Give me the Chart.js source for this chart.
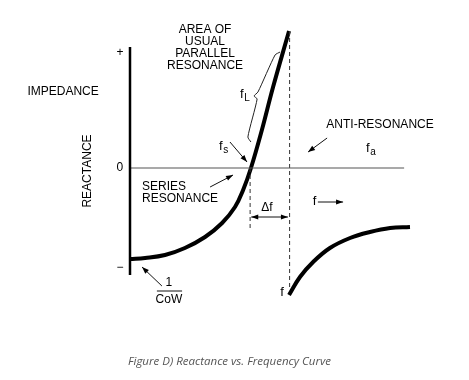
<!DOCTYPE html>
<html>
<head>
<meta charset="utf-8">
<script src="https://cdn.jsdelivr.net/npm/chart.js@4/dist/chart.umd.min.js"></script>
<style>
  html, body { margin: 0; padding: 0; background: #fff; }
  #wrap { width: 469px; height: 380px; position: relative; }
</style>
</head>
<body>
<div id="wrap"><canvas id="c" width="469" height="380"></canvas></div>
<script>
// ---- Data (schematic units: frequency along x, reactance along y) ----
const seriesFreq   = [0, 0.54, 1.25, 1.96, 2.68, 3.29, 3.75, 4.04, 4.32, 4.71, 5.11, 5.68];
const seriesReact  = [-9.1, -9.0, -8.7, -8.0, -6.9, -5.5, -3.9, -2.2, 0, 3.8, 8.1, 13.7];
const parallelFreq  = [5.68, 6.07, 6.54, 7.14, 7.86, 8.57, 9.29, 10];
const parallelReact = [-12.7, -10.9, -9.4, -8.0, -7.0, -6.4, -6.0, -5.9];
const fsFreq = 4.29;          // series resonance frequency
const faFreq = 5.70;          // anti-resonance frequency
const braceFreq  = [5.36, 5.18, 4.57, 4.43, 4.54, 4.21, 4.32];
const braceReact = [11.6, 11.3, 7.6, 7.2, 6.9, 3.1, 2.6];
const tickValues = [11.5, 0, -10.0];
const tickLabels = ['+', '0', '\u2212'];
const axisTop = 12.1, axisBottom = -10.7, zeroLineEnd = 9.79;

const pts = (xs, ys) => xs.map((x, i) => ({ x: x, y: ys[i] }));

const FONT = '"Liberation Sans", Arial, sans-serif';

const annot = {
  id: 'annot',
  afterDatasetsDraw(chart) {
    const ctx = chart.ctx;
    const X = v => chart.scales.x.getPixelForValue(v);
    const Y = v => chart.scales.y.getPixelForValue(v);
    ctx.save();
    ctx.fillStyle = '#000';
    ctx.strokeStyle = '#111';

    function text(s, x, y, size, align, base) {
      ctx.font = (size || 12) + 'px ' + FONT;
      ctx.textAlign = align || 'center';
      ctx.textBaseline = base || 'middle';
      ctx.fillText(s, X(x), Y(y));
    }
    function sub(main, s, x, y) {
      ctx.textBaseline = 'alphabetic';
      ctx.textAlign = 'left';
      ctx.font = '13px ' + FONT;
      ctx.fillText(main, X(x), Y(y));
      const w = ctx.measureText(main).width;
      ctx.font = '10px ' + FONT;
      ctx.fillText(s, X(x) + w + 0.5, Y(y) + 3);
    }
    function arrow(x1, y1, x2, y2, both) {
      const a = X(x1), b = Y(y1), c = X(x2), d = Y(y2);
      ctx.lineWidth = 1;
      ctx.beginPath(); ctx.moveTo(a, b); ctx.lineTo(c, d); ctx.stroke();
      const head = (px, py, qx, qy) => {
        const ang = Math.atan2(py - qy, px - qx);
        const L = 7, W = 2.6;
        ctx.beginPath();
        ctx.moveTo(px, py);
        ctx.lineTo(px - L * Math.cos(ang) + W * Math.sin(ang), py - L * Math.sin(ang) - W * Math.cos(ang));
        ctx.lineTo(px - L * Math.cos(ang) - W * Math.sin(ang), py - L * Math.sin(ang) + W * Math.cos(ang));
        ctx.closePath(); ctx.fill();
      };
      head(c, d, a, b);
      if (both) head(a, b, c, d);
    }

    // tick labels
    tickValues.forEach((v, i) => text(tickLabels[i], -0.36, v, 12, 'center', 'middle'));

    // axis titles
    text('IMPEDANCE', -2.39, 7.6, 12);
    ctx.save();
    ctx.translate(X(-1.5), Y(-0.3));
    ctx.rotate(-Math.PI / 2);
    ctx.font = '12px ' + FONT; ctx.textAlign = 'center'; ctx.textBaseline = 'middle';
    ctx.fillText('REACTANCE', 0, 0);
    ctx.restore();

    // area of usual parallel resonance
    text('AREA OF', 2.68, 13.8, 12);
    text('USUAL', 2.68, 12.6, 12);
    text('PARALLEL', 2.68, 11.4, 12);
    text('RESONANCE', 2.68, 10.2, 12);

    // anti-resonance
    text('ANTI-RESONANCE', 8.93, 4.3, 12);
    arrow(7.04, 3.0, 6.36, 1.6);
    sub('f', 'a', 8.43, 1.6);

    // series resonance
    text('SERIES', 0.43, -1.9, 12, 'left');
    text('RESONANCE', 0.43, -3.1, 12, 'left');
    arrow(2.86, -1.9, 3.68, -0.7);

    // fs, fL
    sub('f', 's', 3.18, 1.8);
    arrow(3.57, 2.6, 4.18, 0.6);
    sub('f', 'L', 3.93, 7.0);

    // delta f
    arrow(fsFreq + 0.04, -4.9, faFreq - 0.06, -4.9, true);
    text('\u0394f', 4.89, -4.0, 12);

    // f ->
    text('f', 6.59, -3.3, 13);
    arrow(6.71, -3.4, 7.61, -3.4);

    // f near bottom
    text('f', 5.43, -12.4, 13);

    // 1 / CoW
    text('1', 1.39, -11.5, 12);
    ctx.lineWidth = 1;
    ctx.beginPath(); ctx.moveTo(X(0.96), Y(-12.3)); ctx.lineTo(X(1.86), Y(-12.3)); ctx.stroke();
    text('CoW', 1.39, -13.2, 12);
    arrow(1.14, -11.8, 0.43, -9.9);

    // caption
    ctx.font = 'italic 11.5px "Open Sans", Roboto, sans-serif';
    ctx.fillStyle = '#555';
    ctx.textAlign = 'left'; ctx.textBaseline = 'middle';
    ctx.fillText('Figure D) Reactance vs. Frequency Curve', 128, 362);
    ctx.restore();
  }
};

new Chart(document.getElementById('c'), {
  type: 'line',
  data: {
    datasets: [
      { data: pts([0, 0], [axisTop, axisBottom]), borderColor: '#000', borderWidth: 2.5, pointRadius: 0, tension: 0, clip: false },
      { data: pts([0, zeroLineEnd], [0, 0]), borderColor: '#555', borderWidth: 1.2, pointRadius: 0, tension: 0, clip: false },
      { data: pts([faFreq, faFreq], [13.7, -12.2]), borderColor: '#333', borderWidth: 1, borderDash: [4, 3], pointRadius: 0, tension: 0, clip: false },
      { data: pts([fsFreq, fsFreq], [0, -6.2]), borderColor: '#333', borderWidth: 1, borderDash: [4, 3], pointRadius: 0, tension: 0, clip: false },
      { data: pts(braceFreq, braceReact), borderColor: '#222', borderWidth: 1, pointRadius: 0, tension: 0.2, clip: false },
      { data: pts(seriesFreq, seriesReact), borderColor: '#000', borderWidth: 4, pointRadius: 0, tension: 0.4, borderCapStyle: 'butt', clip: false },
      { data: pts(parallelFreq, parallelReact), borderColor: '#000', borderWidth: 4, pointRadius: 0, tension: 0.4, borderCapStyle: 'butt', clip: false }
    ]
  },
  options: {
    responsive: false,
    animation: false,
    devicePixelRatio: 1,
    layout: { padding: { left: 130, right: 59, top: 28, bottom: 82 } },
    scales: {
      x: { type: 'linear', min: 0, max: 10, display: false },
      y: { type: 'linear', min: -13, max: 14, display: false }
    },
    plugins: { legend: { display: false }, tooltip: { enabled: false }, title: { display: false } }
  },
  plugins: [annot]
});
</script>
</body>
</html>
